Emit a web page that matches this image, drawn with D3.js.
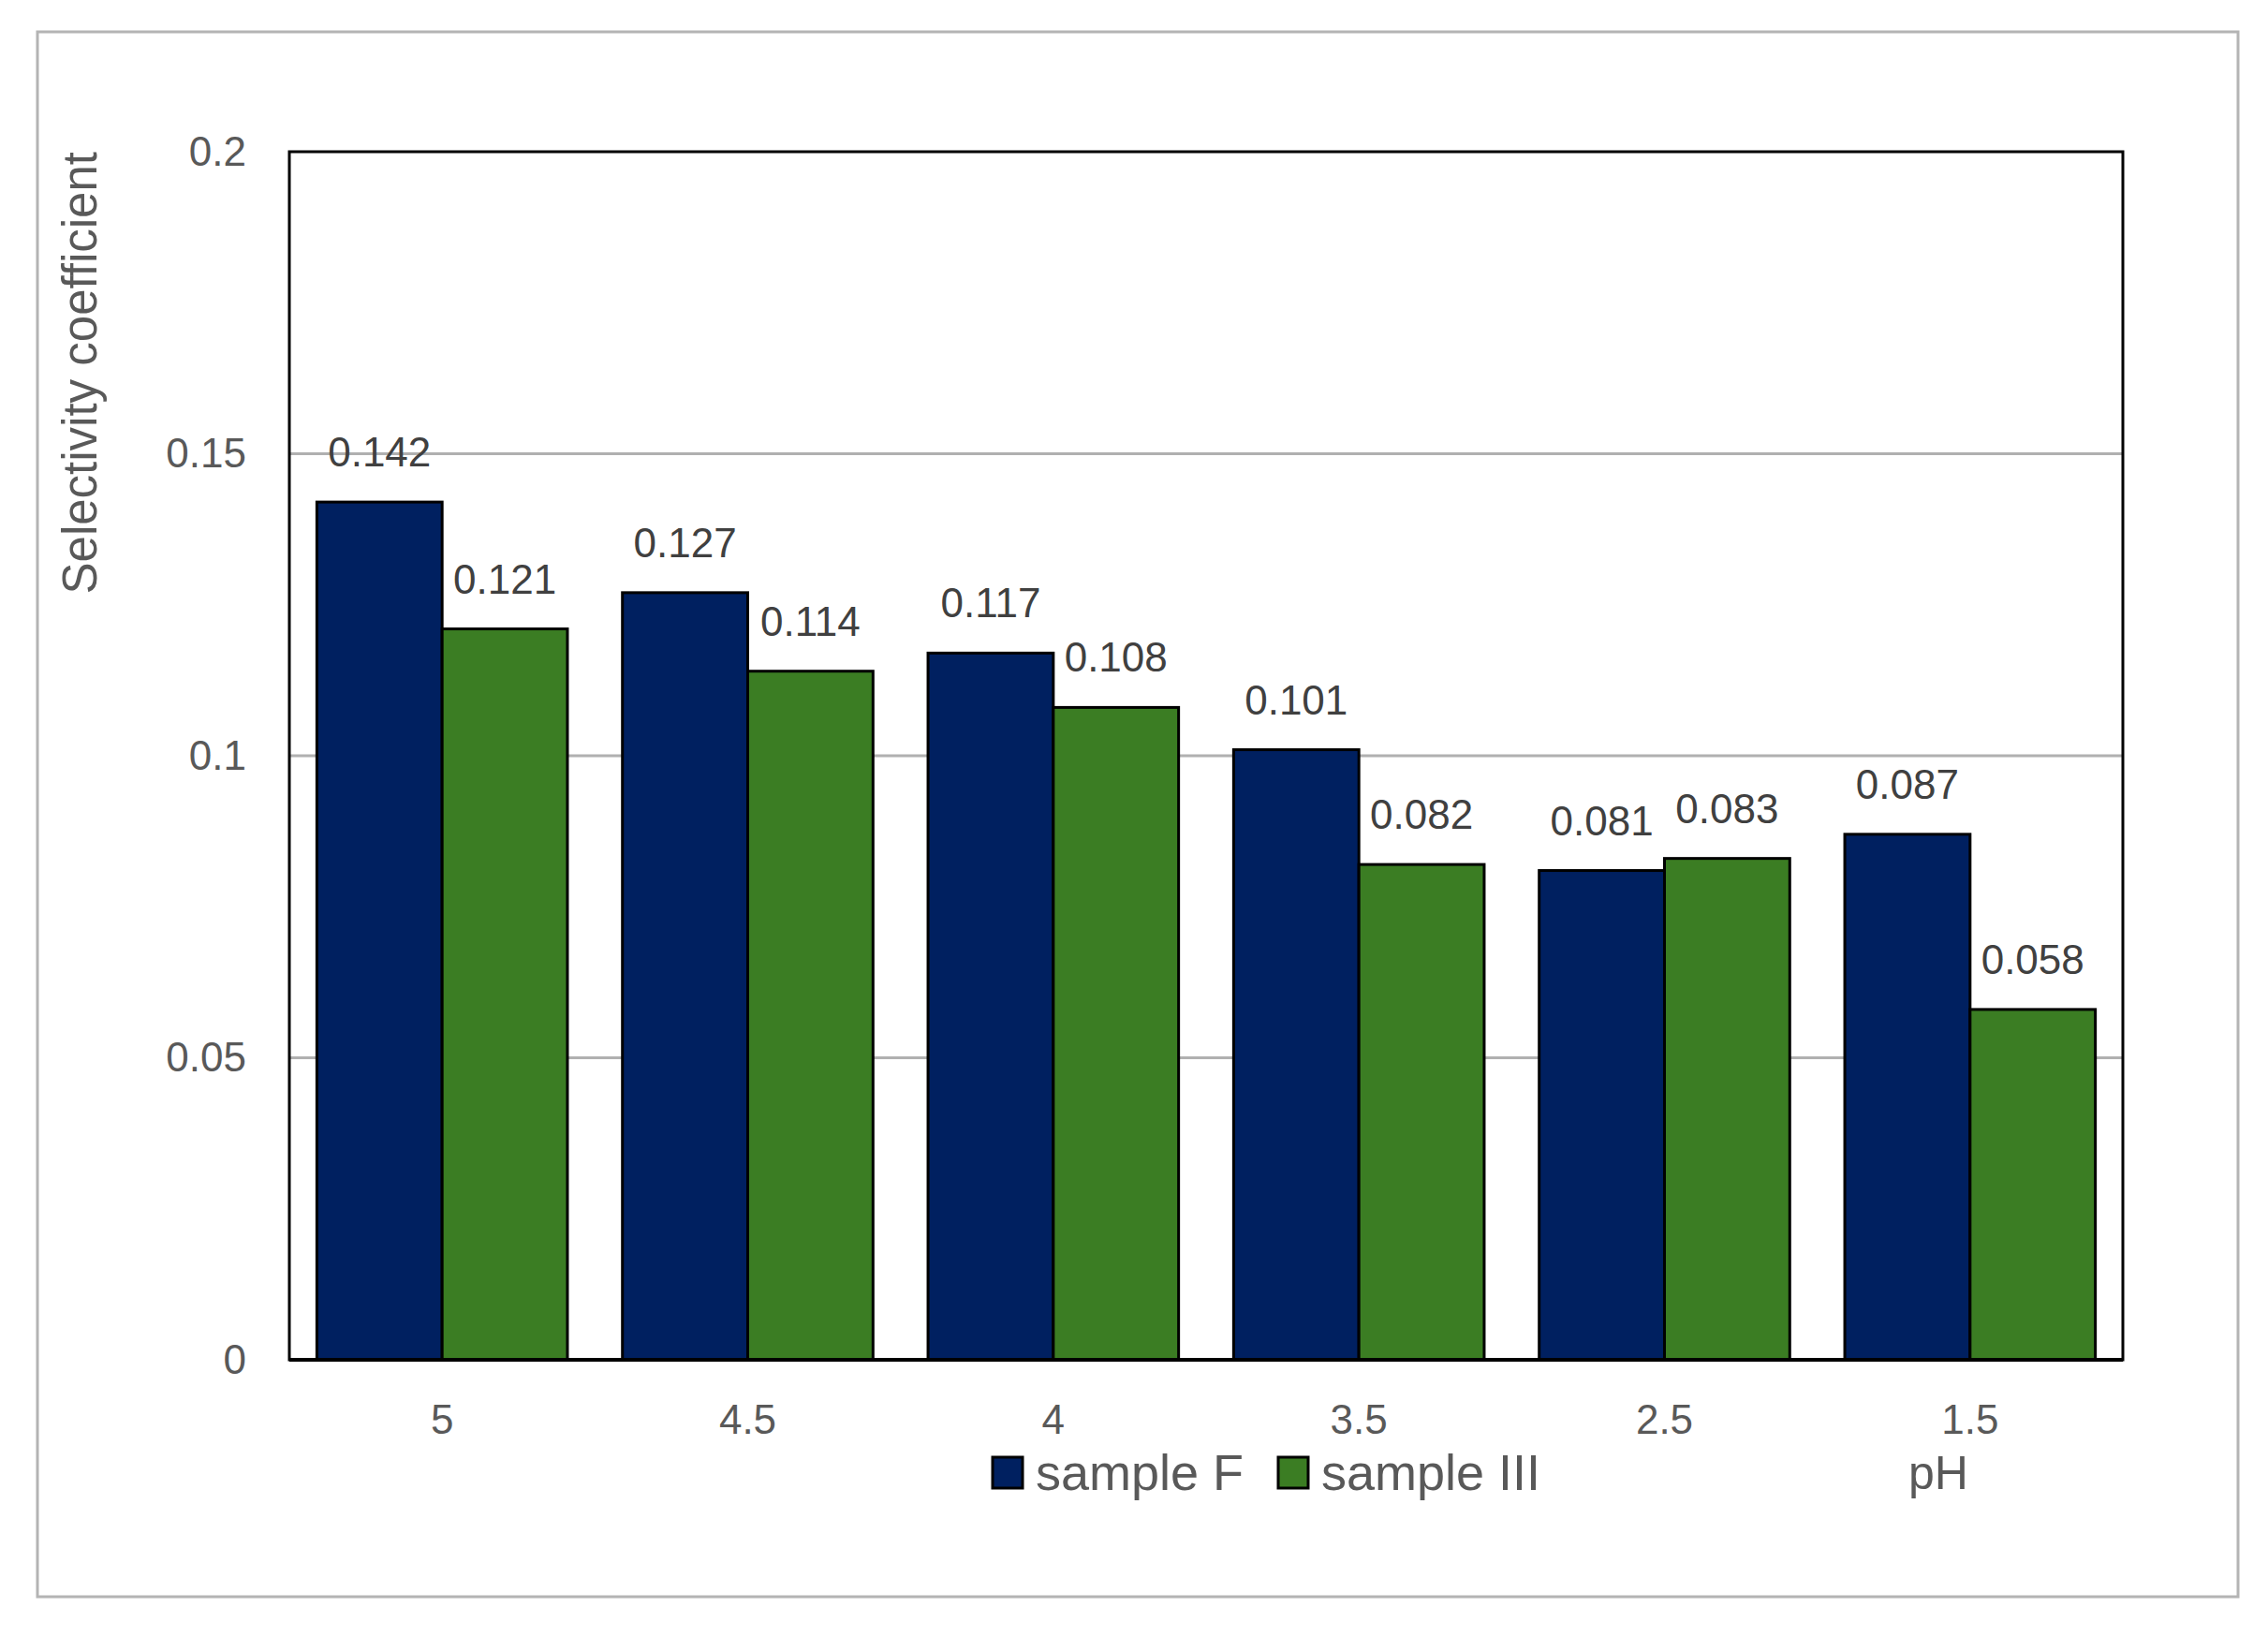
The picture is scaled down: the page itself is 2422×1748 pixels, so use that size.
<!DOCTYPE html>
<html>
<head>
<meta charset="utf-8">
<script src="https://cdn.jsdelivr.net/npm/d3@7"></script>
<style>
  body { margin: 0; background: #fff; }
  text { font-family: "Liberation Sans", Arial, sans-serif; }
</style>
</head>
<body>
<div id="chart"></div>
<script>
var categories = ["5", "4.5", "4", "3.5", "2.5", "1.5"];
var seriesNames = ["sample F", "sample III"];
var sampleF = [0.142, 0.127, 0.117, 0.101, 0.081, 0.087];
var sampleIII = [0.121, 0.114, 0.108, 0.082, 0.083, 0.058];
var yTicks = [0, 0.05, 0.1, 0.15, 0.2];
var colors = ["#002060", "#3b7d23"];

var W = 2422, H = 1748;
var margin = {top: 162, right: 155, bottom: 296, left: 309},
    width = W - margin.left - margin.right,
    height = H - margin.top - margin.bottom;

var rows = categories.map(function(c, i) {
  return {cat: c, values: [sampleF[i], sampleIII[i]]};
});

var x0 = d3.scaleBand()
    .domain(categories)
    .range([0, width])
    .paddingInner(0.18)
    .paddingOuter(0.09);

var x1 = d3.scaleBand()
    .domain(d3.range(seriesNames.length))
    .range([0, x0.bandwidth()]);

var y = d3.scaleLinear()
    .domain([0, 0.2])
    .range([height, 0]);

var svg = d3.select("#chart").append("svg")
    .attr("width", W)
    .attr("height", H);

svg.append("rect")
    .attr("width", W).attr("height", H)
    .attr("fill", "#fff");

// outer chart frame
svg.append("rect")
    .attr("x", 40).attr("y", 34)
    .attr("width", 2350).attr("height", 1671)
    .attr("fill", "none")
    .attr("stroke", "#b4b4b4")
    .attr("stroke-width", 3);

var g = svg.append("g")
    .attr("transform", "translate(" + margin.left + "," + margin.top + ")");

// gridlines
g.selectAll(".grid")
    .data(yTicks.filter(function(t) { return t > 0 && t < 0.2; }))
  .enter().append("line")
    .attr("x1", 0).attr("x2", width)
    .attr("y1", function(d) { return y(d); })
    .attr("y2", function(d) { return y(d); })
    .attr("stroke", "#b0b0b0")
    .attr("stroke-width", 3);

// y tick labels
var yAxis = d3.axisLeft(y)
    .tickValues(yTicks)
    .tickSize(0)
    .tickPadding(46)
    .tickFormat(function(d) { return String(+d.toFixed(2)); });

var ya = g.append("g").call(yAxis);
ya.select(".domain").remove();
ya.selectAll("text")
    .style("font-size", "44px")
    .style("font-family", "'Liberation Sans', Arial, sans-serif")
    .attr("fill", "#595959");

// x tick labels
var xAxis = d3.axisBottom(x0).tickSize(0).tickPadding(48);
var xa = g.append("g")
    .attr("transform", "translate(0," + height + ")")
    .call(xAxis);
xa.select(".domain").remove();
xa.selectAll("text")
    .style("font-size", "44px")
    .style("font-family", "'Liberation Sans', Arial, sans-serif")
    .attr("fill", "#595959");

// bars
var groups = g.selectAll(".grp")
    .data(rows)
  .enter().append("g")
    .attr("transform", function(d) { return "translate(" + x0(d.cat) + ",0)"; });

groups.selectAll("rect")
    .data(function(d) { return d.values; })
  .enter().append("rect")
    .attr("x", function(d, i) { return x1(i); })
    .attr("y", function(d) { return y(d); })
    .attr("width", x1.bandwidth())
    .attr("height", function(d) { return height - y(d); })
    .attr("fill", function(d, i) { return colors[i]; })
    .attr("stroke", "#000")
    .attr("stroke-width", 3);

groups.selectAll(".lbl")
    .data(function(d) { return d.values; })
  .enter().append("text")
    .attr("x", function(d, i) { return x1(i) + x1.bandwidth() / 2; })
    .attr("y", function(d) { return y(d) - 38; })
    .attr("text-anchor", "middle")
    .style("font-size", "44px")
    .attr("fill", "#404040")
    .text(function(d) { return d.toFixed(3); });

// plot border
g.append("rect")
    .attr("width", width).attr("height", height)
    .attr("fill", "none")
    .attr("stroke", "#000")
    .attr("stroke-width", 3);
g.append("line")
    .attr("x1", 0).attr("x2", width)
    .attr("y1", height).attr("y2", height)
    .attr("stroke", "#000")
    .attr("stroke-width", 4);

// y axis title
svg.append("text")
    .attr("transform", "translate(103," + margin.top + ") rotate(-90)")
    .attr("text-anchor", "end")
    .style("font-size", "51px")
    .attr("fill", "#595959")
    .text("Selectivity coefficient");

// legend
var legend = svg.append("g")
    .attr("transform", "translate(1060,1572)");
var legX = [0, 305];
seriesNames.forEach(function(name, i) {
  legend.append("rect")
      .attr("x", legX[i]).attr("y", -16)
      .attr("width", 32).attr("height", 33)
      .attr("fill", colors[i])
      .attr("stroke", "#000")
      .attr("stroke-width", 3);
  legend.append("text")
      .attr("x", legX[i] + 46).attr("y", 0)
      .attr("dy", "0.36em")
      .style("font-size", "54px")
      .attr("fill", "#595959")
      .text(name);
});

// x axis title
svg.append("text")
    .attr("x", 2070).attr("y", 1572)
    .attr("dy", "0.36em")
    .attr("text-anchor", "middle")
    .style("font-size", "50px")
    .attr("fill", "#595959")
    .text("pH");
</script>
</body>
</html>
